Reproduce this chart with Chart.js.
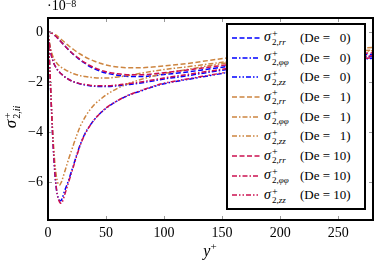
<!DOCTYPE html>
<html lang="en">
<head>
    <meta charset="UTF-8">
    <title>sigma2 ii</title>
    <script src="https://cdnjs.cloudflare.com/ajax/libs/Chart.js/4.4.1/chart.umd.min.js"></script>
    <style>
        body {
            margin: 0;
            background: #fff;
            font-family: 'Liberation Serif', 'DejaVu Serif', serif;
        }
        #wrap {
            position: relative;
            width: 374px;
            height: 262px;
            overflow: hidden;
        }
        canvas { display: block; }
        .it { font-style: italic; }
        #expo {
            position: absolute;
            left: 47px;
            top: -1px;
            font-size: 14px;
            line-height: 14px;
        }
        #expo sup { font-size: 10px; position: relative; top: -3px; vertical-align: baseline; }
        #ylab {
            position: absolute;
            left: -36px;
            top: 104px;
            width: 100px;
            height: 26px;
            text-align: center;
            transform: rotate(-90deg);
            font-size: 17px;
        }
        #ylab .ss { font-size: 10px; line-height: 9px; }
        #ylab .ss .sp { font-size: 11px; }
        #xlab {
            position: absolute;
            left: 190px;
            top: 240px;
            width: 40px;
            text-align: center;
            font-size: 16px;
        }
        .ss {
            display: inline-block;
            vertical-align: middle;
            font-size: 9px;
            line-height: 8px;
            text-align: left;
            margin-left: 1px;
        }
        .ss span { display: block; }
        .ss .sp { font-size: 10px; font-style: normal; }
        #legend {
            position: absolute;
            left: 226px;
            top: 23px;
            width: 136px;
            height: 180px;
            border: 2px solid #000;
            background: #fff;
            padding-top: 3px;
            box-sizing: content-box;
        }
        .row {
            height: 19.7px;
            display: flex;
            align-items: center;
            font-size: 13px;
            white-space: nowrap;
        }
        .row svg { margin-left: 4px; margin-right: 4px; }
        .sym { font-style: italic; font-size: 14px; width: 36px; display: inline-block; }
        .num { display: inline-block; width: 13px; text-align: right; }
    </style>
</head>
<body>
<div id="wrap">
    <canvas id="chart" width="374" height="262"></canvas>
    <div id="expo">·10<sup>−8</sup></div>
    <div id="ylab"><span class="it">σ</span><span class="ss"><span class="sp">+</span><span>2,<i>ii</i></span></span></div>
    <div id="xlab"><span class="it">y</span><sup style="font-size:11px">+</sup></div>
    <div id="legend"></div>
</div>

<script>
    // values in units of 1e-8
    const yPlus = [0, 1, 2, 3, 4, 5, 6, 7, 8, 9, 10, 11, 12, 13, 14, 16, 18, 20, 22, 25, 28, 32, 36, 40, 45, 50,
        60, 70, 80, 90, 100, 120, 140, 160, 180, 200, 220, 240, 260, 280];

    const rrDe0 = [0, -0.01, -0.02, -0.04, -0.07, -0.1, -0.14, -0.18, -0.23, -0.28, -0.33, -0.38, -0.43, -0.48, -0.53,
        -0.63, -0.73, -0.82, -0.9, -1.02, -1.13, -1.26, -1.38, -1.47, -1.57, -1.64,
        -1.73, -1.78, -1.78, -1.75, -1.7, -1.6, -1.47, -1.35, -1.25, -1.16, -1.08, -1.01, -0.95, -0.89];
    const ppDe0 = [0, -0.4, -0.7, -0.95, -1.12, -1.25, -1.35, -1.43, -1.5, -1.56, -1.61, -1.66, -1.7, -1.74, -1.78,
        -1.84, -1.9, -1.95, -1.99, -2.04, -2.08, -2.12, -2.15, -2.17, -2.18, -2.18,
        -2.15, -2.1, -2.04, -1.96, -1.88, -1.75, -1.6, -1.47, -1.37, -1.28, -1.2, -1.12, -1.05, -0.98];
    const zzDe0 = [0, -0.9, -2.0, -3.1, -4.15, -5.0, -5.7, -6.2, -6.5, -6.65, -6.73, -6.75, -6.68, -6.55, -6.4,
        -6.15, -5.9, -5.6, -5.32, -4.88, -4.48, -4.05, -3.75, -3.5, -3.25, -3.05,
        -2.75, -2.52, -2.36, -2.2, -2.07, -1.9, -1.74, -1.58, -1.47, -1.37, -1.28, -1.2, -1.12, -1.05];

    const rrDe1 = [0, -0.005, -0.015, -0.03, -0.05, -0.07, -0.1, -0.13, -0.16, -0.2, -0.24, -0.28, -0.32, -0.36, -0.4,
        -0.48, -0.56, -0.63, -0.7, -0.8, -0.89, -1.0, -1.09, -1.17, -1.25, -1.32,
        -1.4, -1.43, -1.43, -1.4, -1.36, -1.26, -1.13, -1.01, -0.93, -0.86, -0.79, -0.73, -0.67, -0.62];
    const ppDe1 = [0, -0.33, -0.6, -0.8, -0.95, -1.06, -1.14, -1.21, -1.27, -1.32, -1.36, -1.4, -1.43, -1.46, -1.49,
        -1.54, -1.59, -1.63, -1.67, -1.71, -1.75, -1.78, -1.81, -1.83, -1.84, -1.84,
        -1.8, -1.73, -1.65, -1.57, -1.5, -1.39, -1.27, -1.15, -1.05, -0.97, -0.9, -0.83, -0.77, -0.72];
    const zzDe1 = [0, -0.9, -1.95, -3.0, -3.95, -4.7, -5.3, -5.7, -5.95, -6.1, -6.12, -6.05, -5.95, -5.8, -5.65,
        -5.35, -5.05, -4.78, -4.5, -4.1, -3.75, -3.4, -3.12, -2.9, -2.7, -2.52,
        -2.25, -2.05, -1.9, -1.77, -1.66, -1.5, -1.34, -1.2, -1.09, -1.0, -0.93, -0.86, -0.8, -0.75];

    const rrDe10 = [0, -0.01, -0.02, -0.04, -0.07, -0.1, -0.14, -0.18, -0.23, -0.28, -0.33, -0.38, -0.43, -0.48, -0.53,
        -0.63, -0.72, -0.81, -0.89, -1.0, -1.11, -1.23, -1.34, -1.43, -1.52, -1.59,
        -1.67, -1.71, -1.71, -1.68, -1.63, -1.52, -1.4, -1.28, -1.18, -1.09, -1.02, -0.95, -0.89, -0.83];
    const ppDe10 = [0, -0.4, -0.7, -0.95, -1.12, -1.25, -1.35, -1.43, -1.5, -1.56, -1.61, -1.66, -1.7, -1.74, -1.78,
        -1.84, -1.9, -1.95, -1.99, -2.03, -2.07, -2.1, -2.13, -2.15, -2.15, -2.15,
        -2.12, -2.06, -2.0, -1.92, -1.84, -1.7, -1.56, -1.43, -1.33, -1.24, -1.16, -1.09, -1.02, -0.95];
    const zzDe10 = [0, -0.9, -1.95, -3.05, -4.1, -4.95, -5.65, -6.15, -6.5, -6.7, -6.8, -6.85, -6.83, -6.72, -6.57,
        -6.27, -5.97, -5.67, -5.37, -4.92, -4.5, -4.07, -3.76, -3.5, -3.25, -3.04,
        -2.74, -2.51, -2.34, -2.18, -2.05, -1.88, -1.72, -1.56, -1.45, -1.35, -1.26, -1.18, -1.1, -1.03];

    const xTicks = [0, 50, 100, 150, 200, 250];
    const yTicks = [0, -2, -4, -6];

    const deLabels = ['0', '1', '10'];
    const compLabels = ['rr', 'φφ', 'zz'];
    const colors = ['#0000ff', '#cd8540', '#cc1050'];
    const dashes = [[5, 2.5], [5, 2, 1.5, 2], [5, 2, 1.5, 2, 1.5, 2]];
    const series = [[rrDe0, ppDe0, zzDe0], [rrDe1, ppDe1, zzDe1], [rrDe10, ppDe10, zzDe10]];

    const datasets = [];
    series.forEach((group, g) => {
        group.forEach((vals, c) => {
            datasets.push({
                label: compLabels[c] + ' De=' + deLabels[g],
                data: vals.map((v, i) => ({ x: yPlus[i], y: v })),
                borderColor: colors[g],
                borderDash: dashes[c],
                borderWidth: 1.5,
                pointRadius: 0,
                fill: false,
                cubicInterpolationMode: 'monotone',
                order: 3 - g,
                comp: c,
                de: deLabels[g]
            });
        });
    });

    const frame = {
        id: 'frame',
        afterDraw(chart) {
            const { ctx, chartArea: a, scales: { x, y } } = chart;
            ctx.save();
            ctx.strokeStyle = '#999';
            ctx.lineWidth = 1;
            ctx.beginPath();
            xTicks.forEach(t => {
                const px = Math.round(x.getPixelForValue(t)) + 0.5;
                ctx.moveTo(px, a.bottom); ctx.lineTo(px, a.bottom - 4);
                ctx.moveTo(px, a.top); ctx.lineTo(px, a.top + 4);
            });
            yTicks.forEach(t => {
                const py = Math.round(y.getPixelForValue(t)) + 0.5;
                ctx.moveTo(a.left, py); ctx.lineTo(a.left + 4, py);
                ctx.moveTo(a.right, py); ctx.lineTo(a.right - 4, py);
            });
            ctx.stroke();
            ctx.strokeStyle = '#000';
            ctx.lineWidth = 2;
            ctx.strokeRect(a.left, a.top, a.right - a.left, a.bottom - a.top);
            ctx.restore();
        }
    };

    Chart.defaults.font.family = "'Liberation Serif', 'DejaVu Serif', serif";
    Chart.defaults.font.size = 14;
    Chart.defaults.color = '#000';

    const chart = new Chart(document.getElementById('chart'), {
        type: 'line',
        data: { datasets: datasets },
        options: {
            responsive: false,
            animation: false,
            devicePixelRatio: 1,
            layout: { padding: { top: 18, right: 1, left: 0, bottom: 0 } },
            plugins: { legend: { display: false }, tooltip: { enabled: false } },
            scales: {
                x: {
                    type: 'linear',
                    min: 0,
                    max: 280,
                    afterBuildTicks: s => { s.ticks = xTicks.map(v => ({ value: v })); },
                    afterFit: s => { s.height = 42; },
                    grid: { display: false, drawTicks: false },
                    border: { display: false },
                    ticks: { padding: 5, maxRotation: 0 }
                },
                y: {
                    min: -7.52,
                    max: 0.56,
                    afterBuildTicks: s => { s.ticks = yTicks.map(v => ({ value: v })); },
                    afterFit: s => { s.width = 48; },
                    grid: { display: false, drawTicks: false },
                    border: { display: false },
                    ticks: {
                        padding: 5,
                        callback: v => v < 0 ? '−' + Math.abs(v) : String(v)
                    }
                }
            }
        },
        plugins: [frame]
    });

    // legend built from the datasets
    const subs = ['<i>rr</i>', '<i>φφ</i>', '<i>zz</i>'];
    const legend = document.getElementById('legend');
    datasets.forEach(ds => {
        const row = document.createElement('div');
        row.className = 'row';
        row.innerHTML =
            '<svg width="28" height="6"><line x1="0" y1="3" x2="28" y2="3" stroke="' + ds.borderColor +
            '" stroke-width="1.5" stroke-dasharray="' + ds.borderDash.join(',') + '"/></svg>' +
            '<span class="sym">σ<span class="ss"><span class="sp">+</span><span style="font-style:normal">2,' +
            subs[ds.comp] + '</span></span></span>' +
            '<span>(De = <span class="num">' + ds.de + '</span>)</span>';
        legend.appendChild(row);
    });
</script>
</body>
</html>
